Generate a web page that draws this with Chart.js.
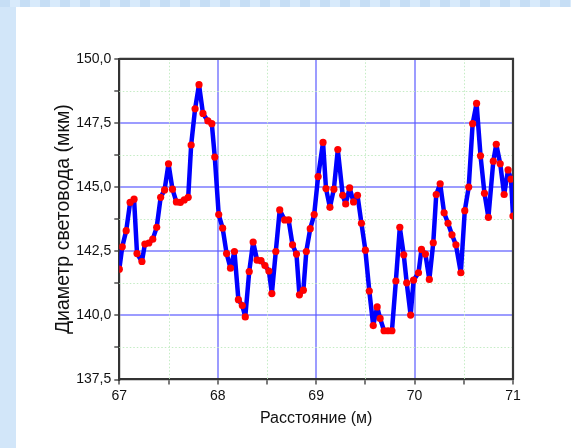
<!doctype html>
<html>
<head>
  <meta charset="utf-8">
  <title>Диаметр световода</title>
  <script src="https://cdn.jsdelivr.net/npm/chart.js@4.4.1/dist/chart.umd.min.js"></script>
  <style>
    html, body { margin: 0; padding: 0; }
    body {
      width: 571px; height: 448px; overflow: hidden; position: relative;
      background: #d2e6f9;
    }
    .strip {
      position: absolute; left: 0; top: 0; width: 571px; height: 7px;
      background: repeating-linear-gradient(90deg, #c6def5 0 10px, #d8eafb 10px 20px);
    }
    .panel {
      position: absolute; left: 16px; top: 7px; width: 555px; height: 441px;
      background: #fff;
    }
  </style>
</head>
<body>
  <div class="strip"></div>
  <div class="panel">
    <canvas id="diam" width="555" height="441"></canvas>
  </div>

  <script>
    // distance along the fibre, m
    var distance = [
      67.00, 67.03, 67.07, 67.11, 67.15, 67.18, 67.23, 67.26, 67.30, 67.34,
      67.38, 67.42, 67.46, 67.50, 67.54, 67.58, 67.62, 67.66, 67.70, 67.73,
      67.77, 67.81, 67.85, 67.90, 67.94, 67.97,
      68.01, 68.05, 68.09, 68.13, 68.17, 68.21, 68.25, 68.28, 68.32, 68.36,
      68.40, 68.44, 68.48, 68.52, 68.55, 68.59, 68.63, 68.68, 68.72, 68.76,
      68.80, 68.83, 68.87, 68.90, 68.94, 68.98,
      69.02, 69.07, 69.10, 69.14, 69.18, 69.22, 69.27, 69.30, 69.34, 69.38,
      69.42, 69.46, 69.50, 69.54, 69.58, 69.62, 69.65, 69.69, 69.73, 69.77,
      69.81, 69.85, 69.89, 69.92, 69.96, 69.99,
      70.04, 70.07, 70.11, 70.15, 70.19, 70.22, 70.26, 70.30, 70.34, 70.38,
      70.42, 70.47, 70.51, 70.55, 70.59, 70.63, 70.67, 70.71, 70.75, 70.80,
      70.83, 70.87, 70.91, 70.95, 70.98, 71.00
    ];

    // fibre diameter, um
    var diameter = [
      141.80, 142.67, 143.30, 144.40, 144.53, 142.41, 142.10, 142.78, 142.82, 142.97,
      143.43, 144.60, 144.89, 145.91, 144.92, 144.42, 144.40, 144.50, 144.60, 146.64,
      148.05, 148.99, 147.87, 147.58, 147.47, 146.17,
      143.93, 143.40, 142.41, 141.84, 142.49, 140.61, 140.38, 139.94, 141.71, 142.86,
      142.15, 142.13, 141.94, 141.73, 140.85, 142.49, 144.11, 143.72, 143.72, 142.75,
      142.39, 140.80, 140.98, 142.49, 143.38, 143.93,
      145.41, 146.74, 144.94, 144.21, 144.92, 146.46, 144.68, 144.34, 144.97, 144.42,
      144.68, 143.59, 142.54, 140.95, 139.60, 140.33, 139.88, 139.40, 139.40, 139.40,
      141.34, 143.43, 142.36, 141.27, 140.01, 141.37,
      141.66, 142.57, 142.39, 141.40, 142.83, 144.71, 145.13, 144.00, 143.59, 143.14,
      142.75, 141.66, 144.08, 145.00, 147.47, 148.26, 146.22, 144.76, 143.82, 146.01,
      146.67, 145.91, 144.71, 145.67, 145.31, 143.87
    ];

    var xMajor = [67, 68, 69, 70, 71];
    var xMinor = [67.5, 68.5, 69.5, 70.5];
    var yMajor = [137.5, 140, 142.5, 145, 147.5, 150];
    var yMinor = [138.75, 141.25, 143.75, 146.25, 148.75];

    var FONT = '"Liberation Sans", Arial, sans-serif';

    function tickList(major, minor) {
      return major.concat(minor).sort(function(a, b) { return a - b; })
        .map(function(v) { return {value: v}; });
    }

    // blue lines on inner major ticks only; edges are covered by the frame
    function gridColor(major) {
      return function(ctx) {
        var v = ctx.tick.value;
        if (v === major[0] || v === major[major.length - 1]) return 'rgba(0,0,0,0)';
        return major.indexOf(v) >= 0 ? 'rgba(90,90,255,0.6)' : 'rgba(0,0,0,0)';
      };
    }

    // dotted minor grid and the top/right sides of the frame
    var plotFrame = {
      id: 'plotFrame',
      beforeDatasetsDraw: function(chart) {
        var ctx = chart.ctx, a = chart.chartArea;
        var sx = chart.scales.x, sy = chart.scales.y;
        ctx.save();
        ctx.strokeStyle = '#c4ecc4';
        ctx.lineWidth = 1;
        ctx.setLineDash([1.5, 2]);
        ctx.beginPath();
        xMinor.forEach(function(v) {
          var px = Math.round(sx.getPixelForValue(v)) + 0.5;
          ctx.moveTo(px, a.top);
          ctx.lineTo(px, a.bottom);
        });
        yMinor.forEach(function(v) {
          var py = Math.round(sy.getPixelForValue(v)) + 0.5;
          ctx.moveTo(a.left, py);
          ctx.lineTo(a.right, py);
        });
        ctx.stroke();
        ctx.setLineDash([]);
        ctx.strokeStyle = '#383838';
        ctx.lineWidth = 2.2;
        ctx.beginPath();
        ctx.moveTo(a.left, a.top);
        ctx.lineTo(a.right, a.top);
        ctx.lineTo(a.right, a.bottom);
        ctx.stroke();
        ctx.restore();
      }
    };

    var config = {
      type: 'line',
      data: {
        datasets: [{
          data: distance.map(function(x, i) { return {x: x, y: diameter[i]}; }),
          borderColor: '#0000ff',
          borderWidth: 4.5,
          borderJoinStyle: 'round',
          pointRadius: 3.6,
          pointBackgroundColor: '#ff0000',
          pointBorderWidth: 0,
          tension: 0
        }]
      },
      options: {
        responsive: false,
        animation: false,
        events: [],
        layout: {
          padding: {left: 0, top: 51.8, right: 58, bottom: 0}
        },
        scales: {
          x: {
            type: 'linear',
            min: 67,
            max: 71,
            afterBuildTicks: function(s) { s.ticks = tickList(xMajor, xMinor); },
            afterFit: function(s) { s.height = 68.5; },
            ticks: {
              autoSkip: false,
              maxRotation: 0,
              padding: 3,
              color: '#111',
              font: {family: FONT, size: 14},
              callback: function(v) { return xMajor.indexOf(v) >= 0 ? String(v) : ''; }
            },
            grid: {
              color: gridColor(xMajor),
              lineWidth: 2,
              tickLength: 5,
              tickColor: '#333',
              tickWidth: 1.3
            },
            border: {color: '#333', width: 2.2},
            title: {
              display: true,
              text: 'Расстояние (м)',
              color: '#111',
              font: {family: FONT, size: 16},
              padding: {top: 0, bottom: 19.4}
            }
          },
          y: {
            min: 137.5,
            max: 150,
            afterBuildTicks: function(s) { s.ticks = tickList(yMajor, yMinor); },
            afterFit: function(s) { s.width = 103.3; },
            ticks: {
              autoSkip: false,
              padding: 3,
              color: '#111',
              font: {family: FONT, size: 14},
              callback: function(v) {
                return yMajor.indexOf(v) >= 0 ? v.toFixed(1).replace('.', ',') : '';
              }
            },
            grid: {
              color: gridColor(yMajor),
              lineWidth: 2,
              tickLength: 5,
              tickColor: '#333',
              tickWidth: 1.3
            },
            border: {color: '#333', width: 2.2},
            title: {
              display: true,
              text: 'Диаметр световода (мкм)',
              color: '#111',
              font: {family: FONT, size: 19.5},
              padding: {top: 36, bottom: 0}
            }
          }
        },
        plugins: {
          legend: {display: false},
          tooltip: {enabled: false}
        }
      },
      plugins: [plotFrame]
    };

    window.onload = function() {
      var ctx = document.getElementById('diam').getContext('2d');
      window.diamChart = new Chart(ctx, config);
    };
  </script>
</body>
</html>
